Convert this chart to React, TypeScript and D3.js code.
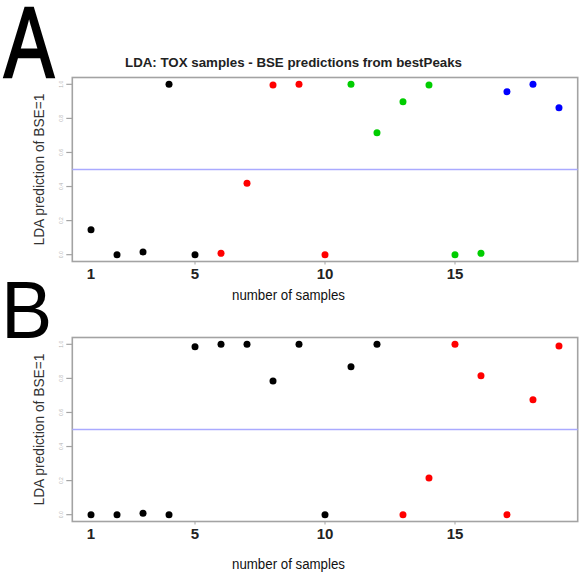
import React from "react";
import * as d3 from "d3";

const sampleIndex = d3.range(1, 20);
const xTickValues = [1, 5, 10, 15];
const yTickValues = [0, 0.2, 0.4, 0.6, 0.8, 1.0];

const predictionsA = [0.147, 0, 0.016, 1.0, 0, 0.008, 0.419, 0.996, 1.0, 0, 1.0, 0.716, 0.898, 0.996, 0, 0.008, 0.957, 1.0, 0.863];
const colorsA = ["black", "black", "black", "black", "black", "red", "red", "red", "red", "red", "green", "green", "green", "green", "green", "green", "blue", "blue", "blue"];

const predictionsB = [0, 0, 0.008, 0, 0.986, 1.0, 1.0, 0.785, 1.0, 0, 0.869, 1.0, 0, 0.215, 1.0, 0.816, 0, 0.675, 0.99];
const colorsB = ["black", "black", "black", "black", "black", "black", "black", "black", "black", "black", "black", "black", "red", "red", "red", "red", "red", "red", "red"];

const palette: Record<string, string> = { black: "#000000", red: "#ff0000", green: "#00cd00", blue: "#0000ff" };

const titleText = "LDA: TOX samples - BSE predictions from bestPeaks";
const xLabel = "number of samples";
const yLabel = "LDA prediction of BSE=1";
const threshold = 0.5;

const FONT = "'Liberation Sans', Arial, sans-serif";

function Panel({ values, colors, top, labelBaseline }: { values: number[]; colors: string[]; top: number; labelBaseline: number }) {
  const left = 72.3, right = 577.7;
  const x = d3.scaleLinear().domain([0.28, 19.72]).range([left, right]);
  const y = d3.scaleLinear().domain([-0.04, 1.04]).range([top + 184, top]);
  const bottom = top + 184;
  return (
    <g>
      <rect x={left} y={top} width={right - left} height={184} fill="none" stroke="#a3a3a3" strokeWidth={1.6} />
      <line x1={left} x2={right} y1={y(threshold)} y2={y(threshold)} stroke="#aaaaff" strokeWidth={1.6} />
      {yTickValues.map((t) => (
        <g key={t}>
          <line x1={left - 6} x2={left} y1={y(t)} y2={y(t)} stroke="#a3a3a3" strokeWidth={1.2} />
          <text
            transform={`translate(${left - 9},${y(t)}) rotate(-90)`}
            textAnchor="middle"
            fontSize={5}
            fill="#b5b5b5"
            fontFamily={FONT}
          >
            {t.toFixed(1)}
          </text>
        </g>
      ))}
      {xTickValues.map((t) => (
        <g key={t}>
          {t !== 1 && <line x1={x(t)} x2={x(t)} y1={bottom} y2={bottom + 3} stroke="#a3a3a3" strokeWidth={1} />}
          <text x={x(t)} y={bottom + 17} textAnchor="middle" fontSize={15} fill="#222" fontFamily={FONT} fontWeight="bold">
            {t}
          </text>
        </g>
      ))}
      {values.map((v, i) => (
        <circle key={i} cx={x(sampleIndex[i])} cy={y(v)} r={3.5} fill={palette[colors[i]]} />
      ))}
      <text x={288.5} y={labelBaseline} textAnchor="middle" fontSize={14} fill="#111" fontFamily={FONT} textLength={113} lengthAdjust="spacingAndGlyphs">
        {xLabel}
      </text>
      <text
        transform={`translate(44,${top + 92}) rotate(-90)`}
        textAnchor="middle"
        fontSize={14}
        fill="#333"
        fontFamily={FONT}
        textLength={152}
        lengthAdjust="spacingAndGlyphs"
      >
        {yLabel}
      </text>
    </g>
  );
}

export default function App() {
  return (
    <svg width={579} height={576} style={{ position: "absolute", left: 0, top: 0, background: "#fff" }}>
      <rect x={0} y={0} width={579} height={576} fill="#ffffff" />
      <text transform="translate(4,77) scale(0.75,1)" fontSize={100} fontFamily={FONT} fill="#000" stroke="#000" strokeWidth={2.5}>A</text>
      <text transform="translate(1,338) scale(0.95,1)" fontSize={81} fontFamily={FONT} fill="#000">B</text>
      <text x={293.5} y={67} textAnchor="middle" fontSize={12.5} fontWeight="bold" fill="#222" fontFamily={FONT} textLength={337} lengthAdjust="spacingAndGlyphs">
        {titleText}
      </text>
      <Panel values={predictionsA} colors={colorsA} top={77.5} labelBaseline={300} />
      <Panel values={predictionsB} colors={colorsB} top={337.5} labelBaseline={569} />
    </svg>
  );
}
